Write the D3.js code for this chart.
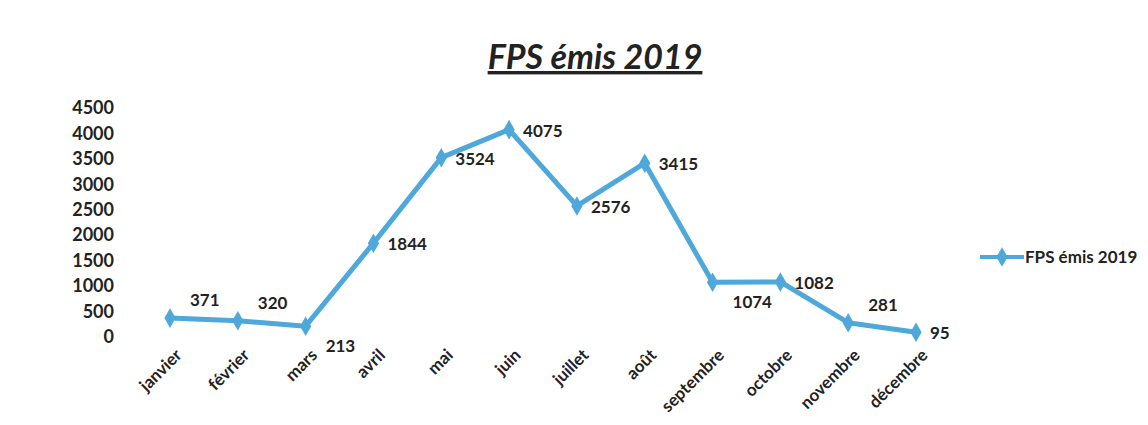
<!DOCTYPE html>
<html>
<head>
<meta charset="utf-8">
<title>FPS émis 2019</title>
<script src="https://cdn.jsdelivr.net/npm/d3@7"></script>
<style>
  body { margin: 0; background: #fff; }
  text { font-family: Lato, "Open Sans", sans-serif; fill: #222; }
</style>
</head>
<body>
<script>
var width = 1148, height = 425;

var months = ["janvier","février","mars","avril","mai","juin","juillet","août","septembre","octobre","novembre","décembre"];
var values = [371, 320, 213, 1844, 3524, 4075, 2576, 3415, 1074, 1082, 281, 95];
// where each data label sits relative to its point
var labelPos = ["above","above","below","right","right","right","right","right","below","right","above","right"];
var yTicks = [0, 500, 1000, 1500, 2000, 2500, 3000, 3500, 4000, 4500];
var seriesName = "FPS émis 2019";

var lineColor = "#4ea8da";

var svg = d3.select("body").append("svg").attr("width", width).attr("height", height);

var x = d3.scalePoint().domain(months).range([170, 916]);
var y = d3.scaleLinear().domain([0, 4500]).range([337, 108]);

// title
svg.append("text")
   .attr("x", 595).attr("y", 69)
   .attr("text-anchor", "middle")
   .style("font-size", "34px").style("font-weight", "bold").style("font-style", "italic")
   .style("text-decoration", "underline")
   .text(seriesName);

// y axis labels only
var yAxis = d3.axisLeft(y).tickValues(yTicks).tickFormat(d3.format("d")).tickSize(0).tickPadding(0);
var gy = svg.append("g").attr("transform", "translate(114,0)").call(yAxis);
gy.select(".domain").remove();
gy.selectAll("text").attr("font-family", null)
  .style("font-size", "18px").style("font-weight", "bold").style("fill", "#222");

// x axis labels rotated
var xAxis = d3.axisBottom(x).tickSize(0).tickPadding(0);
var gx = svg.append("g").attr("transform", "translate(0,350)").call(xAxis);
gx.select(".domain").remove();
gx.selectAll("text")
  .attr("font-family", null)
  .style("font-size", "17px").style("font-weight", "bold").style("fill", "#222")
  .style("text-anchor", "end")
  .attr("dy", "0.35em")
  .attr("transform", "translate(8,2) rotate(-45)");

var line = d3.line().x(function(d,i){ return x(months[i]); }).y(function(d){ return y(d); });

svg.append("path")
   .datum(values)
   .attr("d", line)
   .attr("fill", "none")
   .attr("stroke", lineColor)
   .attr("stroke-width", 5)
   .attr("stroke-linejoin", "round");

var diamond = d3.symbol().type(d3.symbolDiamond).size(110);
svg.selectAll(".pt")
   .data(values)
   .enter().append("path")
   .attr("class", "pt")
   .attr("d", diamond)
   .attr("transform", function(d,i){ return "translate(" + x(months[i]) + "," + y(d) + ")"; })
   .attr("fill", lineColor);

svg.selectAll(".lbl")
   .data(values)
   .enter().append("text")
   .attr("class", "lbl")
   .attr("x", function(d,i){
     var p = labelPos[i];
     return x(months[i]) + (p == "right" ? 14 : p == "above" ? 20 : 20);
   })
   .attr("y", function(d,i){
     var p = labelPos[i];
     return y(d) + (p == "right" ? 7 : p == "above" ? -12 : 26);
   })
   .style("font-size", "17px").style("font-weight", "bold")
   .text(function(d){ return d; });

// legend
var lg = svg.append("g").attr("transform", "translate(980,257)");
lg.append("line").attr("x1", 0).attr("x2", 44).attr("y1", 0).attr("y2", 0)
  .attr("stroke", lineColor).attr("stroke-width", 4);
lg.append("path").attr("d", diamond).attr("transform", "translate(22,0)").attr("fill", lineColor);
lg.append("text").attr("x", 45).attr("y", 6)
  .style("font-size", "17px").style("font-weight", "bold")
  .text(seriesName);
</script>
</body>
</html>
